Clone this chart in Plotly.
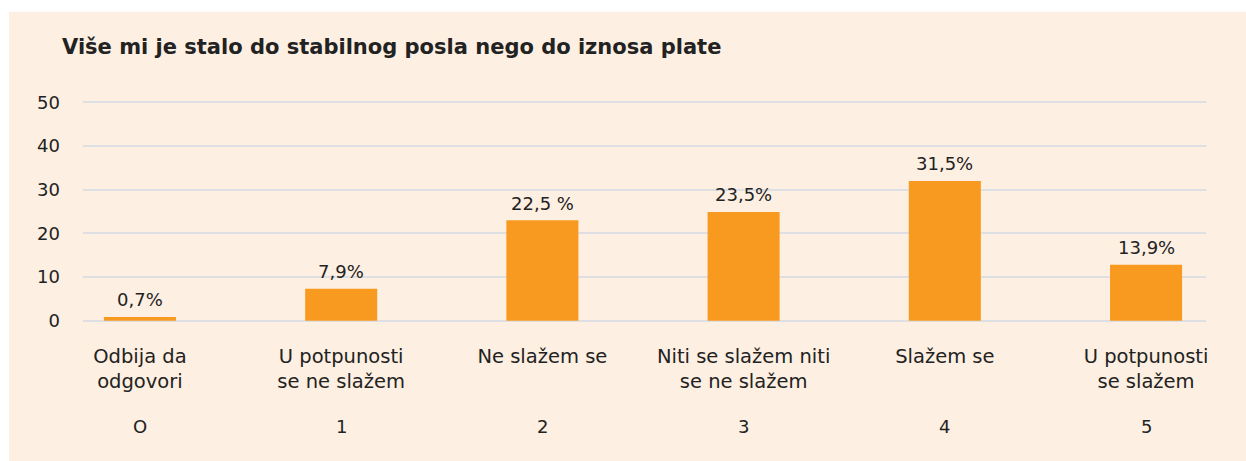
import plotly.graph_objects as go

categories = ["Odbija da<br>odgovori", "U potpunosti<br>se ne slažem", "Ne slažem se",
              "Niti se slažem niti<br>se ne slažem", "Slažem se", "U potpunosti<br>se slažem"]
codes = ["O", "1", "2", "3", "4", "5"]
bar_values = [0.85, 7.3, 23.0, 24.9, 32.0, 12.8]
value_labels = ["0,7%", "7,9%", "22,5 %", "23,5%", "31,5%", "13,9%"]
y_ticks = [0, 10, 20, 30, 40, 50]

FONT = "DejaVu Sans"
TXT = "#222222"
W, H = 1246, 461
L, R = 83, 1206            # plot area px
Y0PX, Y50PX = 321, 102     # pixel of y=0 and y=50
ypx = (Y0PX - Y50PX) / 50.0
ylo, yhi = -1.0, 51.0
top_px = Y50PX - (yhi - 50) * ypx
bot_px = Y0PX + (0 - ylo) * ypx
ph = bot_px - top_px
pw = R - L

def py(pix):
    return (bot_px - pix) / ph

def pxx(pix):
    return (pix - L) / pw

x = list(range(len(categories)))

fig = go.Figure()
fig.add_trace(go.Bar(
    x=x, y=bar_values, marker_color="#F99A20", marker_line_width=0,
    width=0.358, hoverinfo="skip",
))

for xi, v, t in zip(x, bar_values, value_labels):
    fig.add_annotation(x=xi, y=v, xref="x", yref="y", text=t, showarrow=False,
                       yanchor="middle", yshift=17,
                       font=dict(family=FONT, size=18, color=TXT))

for xi, c in zip(x, codes):
    fig.add_annotation(x=xi, y=py(427), xref="x", yref="paper", text=c, showarrow=False,
                       yanchor="middle", font=dict(family=FONT, size=18, color=TXT))

fig.update_layout(
    width=W, height=H,
    margin=dict(l=L, r=W - R, t=top_px, b=H - bot_px, pad=0),
    paper_bgcolor="white", plot_bgcolor="rgba(0,0,0,0)",
    title=dict(text="<b>Više mi je stalo do stabilnog posla nego do iznosa plate</b>",
               x=62 / W, xanchor="left", y=1 - 47 / H, yanchor="middle",
               font=dict(family=FONT, size=21, color=TXT)),
    showlegend=False,
    xaxis=dict(range=[-0.283, 5.298], tickmode="array", tickvals=x, ticktext=categories,
               tickfont=dict(family=FONT, size=19.5, color=TXT), showgrid=False,
               zeroline=False, showline=False, ticklabelstandoff=17, fixedrange=True),
    yaxis=dict(range=[ylo, yhi], tickvals=y_ticks, showgrid=True, gridcolor="#DEDFE2",
               gridwidth=2, zeroline=False, showline=False, fixedrange=True,
               tickfont=dict(family=FONT, size=18, color=TXT), ticklabelstandoff=22),
    shapes=[dict(type="rect", xref="paper", yref="paper", layer="below",
                 x0=pxx(9), x1=pxx(W + 5), y0=py(H + 5), y1=py(11),
                 fillcolor="#FDEFE1", line_width=0)],
)
fig.write_html("out.html", config={"displayModeBar": False},
               post_script="document.body.style.margin='0';")
